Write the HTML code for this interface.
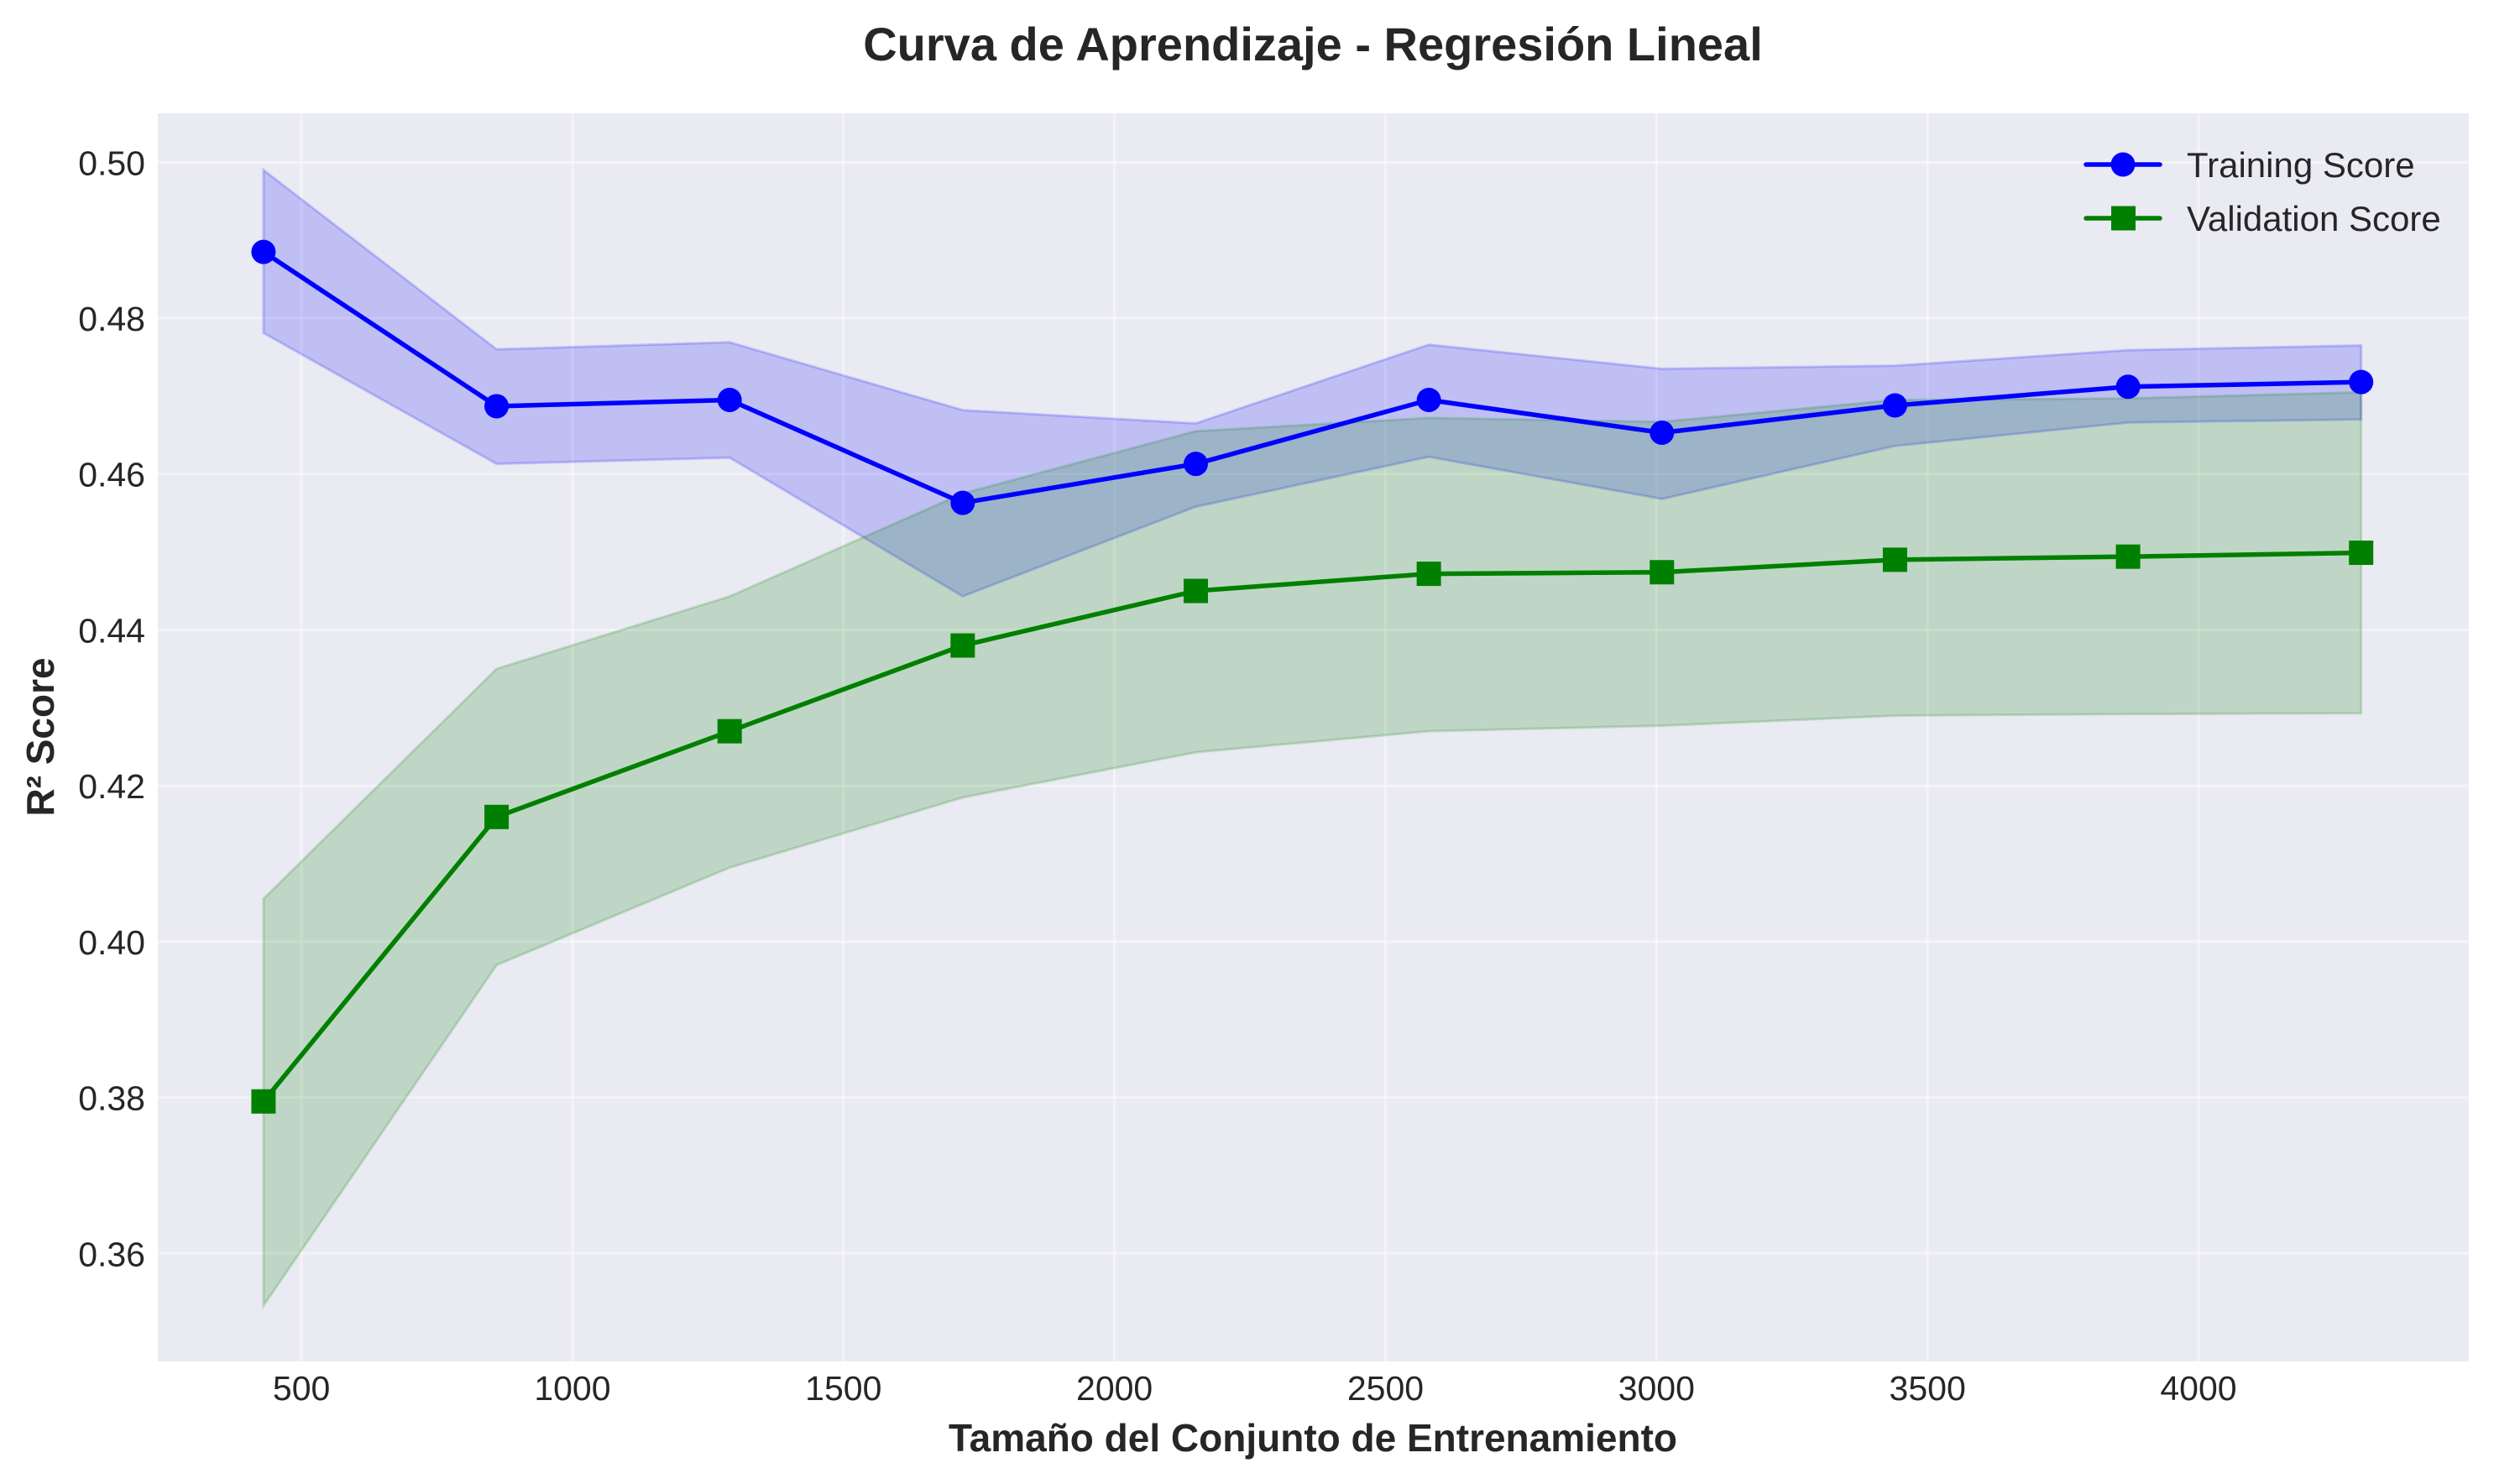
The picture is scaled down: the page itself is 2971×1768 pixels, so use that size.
<!DOCTYPE html>
<html><head><meta charset="utf-8"><style>
body{margin:0;background:#fff;}
svg{display:block;font-family:"Liberation Sans",Arial,sans-serif;}
</style></head><body>
<svg id="chart" width="2971" height="1768" viewBox="0 0 2971 1768" xmlns="http://www.w3.org/2000/svg">
<rect width="2971" height="1768" fill="#ffffff"/>
<rect x="188" y="135" width="2753" height="1487" fill="#eaeaf2"/>
<g id="grid"></g><g id="bands"></g><g id="lines"></g><g id="ticks"></g>
<text x="1564" y="72" font-size="56" font-weight="bold" text-anchor="middle" fill="#262626">Curva de Aprendizaje - Regresión Lineal</text>
<text x="1564" y="1729" font-size="46" font-weight="bold" text-anchor="middle" fill="#262626">Tamaño del Conjunto de Entrenamiento</text>
<text transform="translate(64,878) rotate(-90)" font-size="46" font-weight="bold" text-anchor="middle" fill="#262626">R² Score</text>
<g>
<g>
<line x1="2485" y1="196" x2="2573" y2="196" stroke="#0000ff" stroke-width="5.5" stroke-linecap="round"/>
<circle cx="2529" cy="196" r="14.5" fill="#0000ff"/>
<text x="2605" y="211" font-size="42" fill="#262626">Training Score</text></g>
<g>
<line x1="2485" y1="260" x2="2573" y2="260" stroke="#008000" stroke-width="5.5" stroke-linecap="round"/>
<rect x="2515" y="245.5" width="29" height="29" fill="#008000"/>
<text x="2605" y="275" font-size="42" fill="#262626">Validation Score</text></g>
</g>
</svg>
<script>
const trainSizes=[430,860,1290,1720,2150,2580,3010,3440,3870,4300];
const trainMean=[0.4885,0.4687,0.4695,0.4563,0.4613,0.4695,0.4653,0.4688,0.4712,0.4718];
const trainUpper=[0.4990,0.4760,0.4769,0.4682,0.4665,0.4766,0.4735,0.4739,0.4759,0.4765];
const trainLower=[0.4781,0.4613,0.4621,0.4443,0.4558,0.4622,0.4568,0.4636,0.4666,0.4670];
const valMean=[0.3795,0.4160,0.4270,0.4380,0.4450,0.4472,0.4474,0.4490,0.4494,0.4499];
const valUpper=[0.4055,0.4350,0.4443,0.4575,0.4655,0.4672,0.4667,0.4695,0.4697,0.4705];
const valLower=[0.3533,0.3970,0.4095,0.4185,0.4243,0.4270,0.4277,0.4290,0.4292,0.4293];
const xTicks=[500,1000,1500,2000,2500,3000,3500,4000];
const yTicks=[0.36,0.38,0.40,0.42,0.44,0.46,0.48,0.50];
const L=188,R=2941,T=135,B=1622;
const X0=235,X1=4498.7,Y0=0.34614,Y1=0.50628;
const sx=v=>L+(v-X0)/(X1-X0)*(R-L);
const sy=v=>B-(v-Y0)/(Y1-Y0)*(B-T);
const NS="http://www.w3.org/2000/svg";
function mk(tag,attrs,parent){const e=document.createElementNS(NS,tag);for(const k in attrs)e.setAttribute(k,attrs[k]);document.getElementById(parent).appendChild(e);return e;}
xTicks.forEach(t=>{
 const g=mk('line',{x1:sx(t),x2:sx(t),y1:T,y2:B,stroke:'#ffffff','stroke-width':3,'stroke-opacity':0.45},'grid');
 
 
 const tx=mk('text',{x:sx(t),y:1668,'font-size':41,'text-anchor':'middle',fill:'#262626'},'ticks');
 tx.textContent=t;
 
 
});
yTicks.forEach(t=>{
 const g=mk('line',{x1:L,x2:R,y1:sy(t),y2:sy(t),stroke:'#ffffff','stroke-width':3,'stroke-opacity':0.45},'grid');
 
 
 const tx=mk('text',{x:173,y:sy(t)+15,'font-size':41,'text-anchor':'end',fill:'#262626'},'ticks');
 tx.textContent=t.toFixed(2);
 
 
});
function band(up,lo,col,name){
 let d='M'+trainSizes.map((s,i)=>sx(s)+','+sy(up[i])).join(' L');
 d+=' L'+trainSizes.map((s,i)=>sx(s)+','+sy(lo[i])).reverse().join(' L')+' Z';
 const p=mk('path',{d:d,fill:col,'fill-opacity':0.18,stroke:col,'stroke-opacity':0.18,'stroke-width':3},'bands');
 
 
}
band(trainUpper,trainLower,'#0000ff','training-std-band');
band(valUpper,valLower,'#008000','validation-std-band');
function series(vals,col,name,marker){
 const pl=mk('polyline',{points:trainSizes.map((s,i)=>sx(s)+','+sy(vals[i])).join(' '),fill:'none',stroke:col,'stroke-width':5.5,'stroke-linejoin':'round'},'lines');
 
 
 trainSizes.forEach((s,i)=>{
  let m;
  if(marker==='circle') m=mk('circle',{cx:sx(s),cy:sy(vals[i]),r:14.5,fill:col},'lines');
  else m=mk('rect',{x:sx(s)-14.5,y:sy(vals[i])-14.5,width:29,height:29,fill:col},'lines');
  
  
 });
}
series(trainMean,'#0000ff','training-score','circle');
series(valMean,'#008000','validation-score','square');
</script>
</body></html>
